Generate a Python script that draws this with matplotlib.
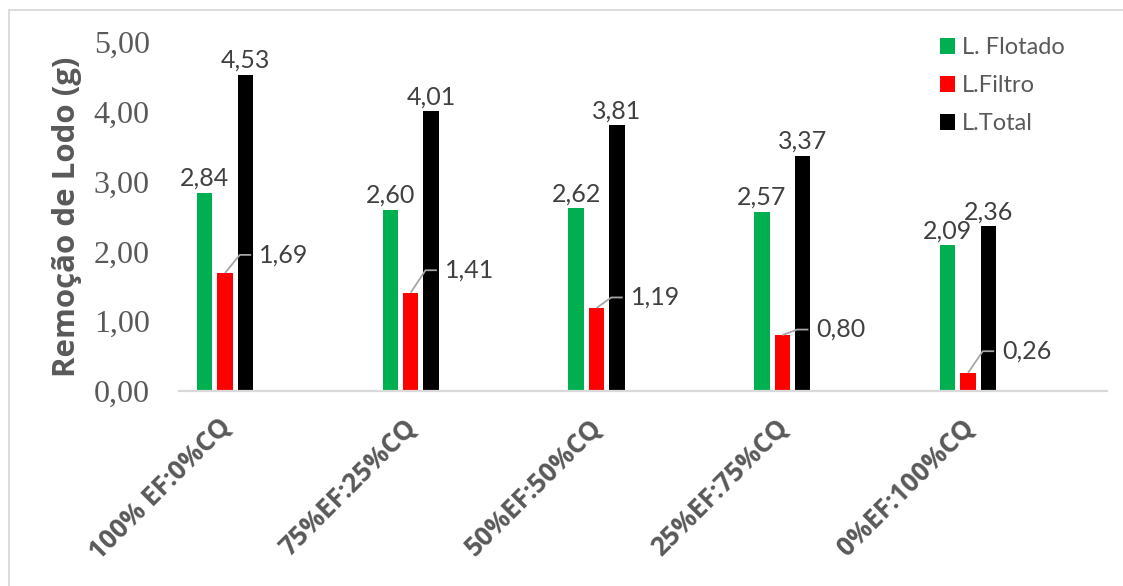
import matplotlib
matplotlib.use("Agg")
import matplotlib.pyplot as plt
import matplotlib.transforms as mtransforms
from matplotlib.patches import Rectangle
import numpy as np

# Data
categories = ["100% EF:0%CQ", "75%EF:25%CQ", "50%EF:50%CQ", "25%EF:75%CQ", "0%EF:100%CQ"]
flotado = [2.84, 2.60, 2.62, 2.57, 2.09]
filtro = [1.69, 1.41, 1.19, 0.80, 0.26]
total = [4.53, 4.01, 3.81, 3.37, 2.36]
series_names = ["L. Flotado", "L.Filtro", "L.Total"]
y_ticks = [0, 1, 2, 3, 4, 5]

# Layout: height of the callout labels for the L.Filtro values
filtro_label_y = [1.95, 1.73, 1.34, 0.88, 0.57]

colors = ["#00B050", "#FF0000", "#000000"]
gray_text = "#595959"
label_color = "#404040"
sans = "Lato"
bold_sans = "Open Sans"

W, H = 1123, 586
fig = plt.figure(figsize=(W / 100, H / 100), dpi=100)
ax = fig.add_axes([179 / W, 1 - 391 / H, (1107 - 179) / W, (391 - 42) / H])

x = np.arange(len(categories))
width = 0.083
step = 0.110
offsets = [-step, 0.0, step]

for vals, off, c, name in zip([flotado, filtro, total], offsets, colors, series_names):
    ax.bar(x + off, vals, width=width, color=c, label=name, zorder=2)

# Value labels above the green and black bars
for vals, off in [(flotado, offsets[0]), (total, offsets[2])]:
    for xi, v in zip(x, vals):
        ax.annotate(f"{v:.2f}".replace(".", ","), (xi + off, v),
                    xytext=(0, 2), textcoords="offset points",
                    ha="center", va="bottom", fontsize=18,
                    family=sans, color=label_color, zorder=4)

# Callout labels for the red bars
px = 1 / 185.75
for xi, v, ly in zip(x, filtro, filtro_label_y):
    xr = xi + offsets[1]
    xb_left = xi + offsets[2] - width / 2
    xb_right = xi + offsets[2] + width / 2
    ax.plot([xr, xb_left + 2 * px, xb_right - 2 * px], [v, ly, ly],
            color="#A6A6A6", lw=1.3, zorder=3, solid_capstyle="butt")
    ax.text(xb_right + 6 * px, ly, f"{v:.2f}".replace(".", ","),
            ha="left", va="center", fontsize=18, family=sans,
            color=label_color, zorder=4)

ax.set_xlim(-0.2477, 4.748)
ax.set_ylim(0, 5)
ax.set_yticks(y_ticks)
ax.set_yticklabels([f"{t:.2f}".replace(".", ",") for t in y_ticks],
                   family="Liberation Serif", fontsize=23, color=gray_text)
ax.tick_params(axis="y", length=0, pad=21)
ax.set_xticks(x)
ax.set_xticklabels(categories, rotation=45, ha="right", rotation_mode="anchor",
                   family=bold_sans, fontweight="bold", fontsize=19, color=gray_text)
ax.tick_params(axis="x", length=0, pad=16)
shift = mtransforms.ScaledTranslation(-8 / 100, 0, fig.dpi_scale_trans)
for lbl in ax.get_xticklabels():
    lbl.set_transform(lbl.get_transform() + shift)

for s in ["top", "right", "left"]:
    ax.spines[s].set_visible(False)
ax.spines["bottom"].set_color("#D9D9D9")
ax.spines["bottom"].set_linewidth(1.6)

fig.text(67 / W, 1 - 217 / H, "Remoção de Lodo (g)", rotation=90,
         ha="center", va="center", family=bold_sans, fontweight="bold",
         fontsize=22.5, color=gray_text)

leg = ax.legend(loc="upper left", bbox_to_anchor=(940 / W, 1 - 37 / H),
                bbox_transform=fig.transFigure, frameon=False,
                prop={"family": sans, "size": 17},
                handlelength=0.64, handleheight=0.64, handletextpad=0.3,
                labelspacing=0.72, borderaxespad=0, borderpad=0)
for t in leg.get_texts():
    t.set_color(gray_text)

# Chart area border
fig.patches.append(Rectangle((9 / W, -0.1), 1.2, 1.1 - 10 / H,
                             transform=fig.transFigure, fill=False,
                             edgecolor="#D9D9D9", lw=1.3))

fig.savefig("out.png", dpi=100, facecolor="white")
